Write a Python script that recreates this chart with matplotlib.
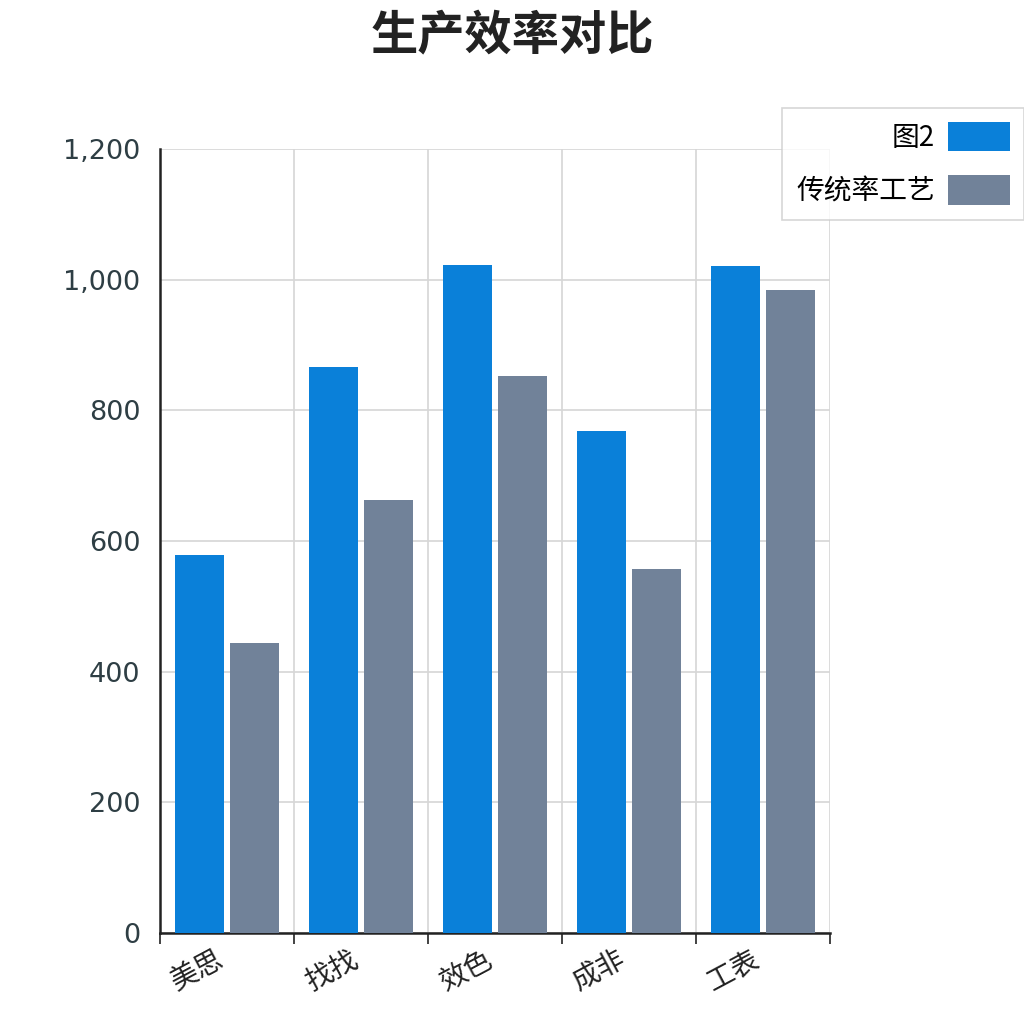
import matplotlib
matplotlib.use("Agg")
import matplotlib.pyplot as plt
import numpy as np
from matplotlib.ticker import FuncFormatter

plt.rcParams['font.family'] = ['Noto Sans CJK SC', 'DejaVu Sans']

categories = ['美思', '找找', '效色', '成非', '工表']
series_names = ['图2', '传统率工艺']
values_new = [579, 866, 1022, 768, 1021]
values_old = [444, 663, 853, 557, 984]
yticks = [0, 200, 400, 600, 800, 1000, 1200]

blue = '#0a80d9'
gray = '#718299'

fig = plt.figure(figsize=(10.24, 10.24), dpi=100)
ax = fig.add_axes([0.15625, 0.0889, 0.8105 - 0.15625, 0.8545 - 0.0889])

x = np.arange(len(categories))
w = 0.366
ax.bar(x - 0.207, values_new, width=w, color=blue, label=series_names[0], zorder=3)
ax.bar(x + 0.207, values_old, width=w, color=gray, label=series_names[1], zorder=3)

ax.set_xlim(-0.5, len(categories) - 0.5)
ax.set_ylim(0, 1200)
ax.set_yticks(yticks)
ax.yaxis.set_major_formatter(FuncFormatter(lambda v, p: f"{int(v):,}"))
ax.tick_params(axis='y', length=0, pad=14, labelsize=19.5, labelcolor='#2e3e44')
for lab in ax.get_yticklabels():
    lab.set_family('DejaVu Sans')

# vertical grid at category boundaries
bounds = np.arange(-0.5, len(categories) + 0.5, 1)
ax.set_xticks(bounds)
ax.set_xticklabels([])
ax.tick_params(axis='x', length=8, width=1.2, color='#222222', direction='out')
for b in bounds[1:]:
    ax.axvline(b, color='#d6d6d6', lw=1.2, zorder=1)
ax.yaxis.grid(True, color='#d6d6d6', lw=1.2, zorder=1)
ax.set_axisbelow(True)

for i, c in enumerate(categories):
    ax.text(i - 0.22, -18, c, rotation=28, ha='center', va='top', fontsize=20,
            color='#222222', transform=ax.transData)

for s in ['top', 'right']:
    ax.spines[s].set_visible(False)
ax.spines['left'].set_color('#222222')
ax.spines['left'].set_linewidth(1.8)
ax.spines['bottom'].set_color('#222222')
ax.spines['bottom'].set_linewidth(1.8)

fig.text(0.5, 0.965, '生产效率对比', ha='center', va='center', fontsize=34,
         fontweight='bold', color='#222222')

leg = fig.legend(loc='upper right', bbox_to_anchor=(1.0, 0.8945), markerfirst=False,
                 fontsize=20, frameon=True, fancybox=False, edgecolor='#cccccc',
                 handlelength=2.25, handleheight=1.25, labelspacing=0.8,
                 borderpad=0.5, handletextpad=0.45, borderaxespad=0)
leg.get_frame().set_linewidth(1.2)
for t in leg.get_texts():
    t.set_ha('right')

fig.savefig('out.png', dpi=100, facecolor='white')
